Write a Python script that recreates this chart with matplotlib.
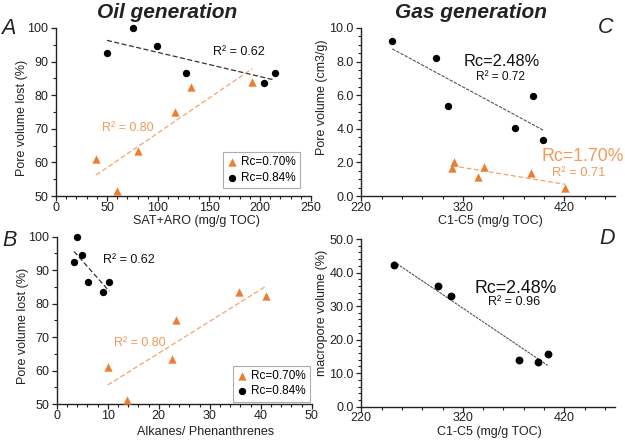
import matplotlib
matplotlib.use("Agg")
import matplotlib.pyplot as plt
import numpy as np
from matplotlib.ticker import MultipleLocator, FormatStrFormatter

plt.rcParams['font.family'] = ['Liberation Sans', 'DejaVu Sans']

# ---------------- data ----------------
# Panel A: SAT+ARO vs pore volume lost
a_x_070 = [39.3, 60.0, 80.8, 116.6, 132.1, 192.5]
a_y_070 = [61.0, 51.4, 63.3, 75.1, 82.5, 83.8]
a_x_084 = [50.0, 75.0, 99.0, 127.5, 203.5, 214.5]
a_y_084 = [92.6, 100.0, 94.7, 86.7, 83.6, 86.6]

# Panel B: Alkanes/Phenanthrenes vs pore volume lost
b_x_070 = [10.0, 13.8, 22.6, 23.4, 35.7, 41.1]
b_y_070 = [61.0, 51.2, 63.3, 75.0, 83.6, 82.3]
b_x_084 = [3.4, 4.0, 4.9, 6.1, 9.0, 10.3]
b_y_084 = [92.5, 100.0, 94.6, 86.6, 83.5, 86.6]

# Panel C: C1-C5 vs pore volume
c_x_170 = [311.0, 309.0, 334.6, 340.6, 386.9, 420.7]
c_y_170 = [2.0, 1.65, 1.15, 1.7, 1.35, 0.5]
c_x_248 = [250.5, 293.3, 305.1, 371.1, 389.1, 399.0]
c_y_248 = [9.22, 8.22, 5.35, 4.02, 5.97, 3.33]

# Panel D: C1-C5 vs macropore volume
d_x_248 = [252.0, 295.2, 308.0, 375.0, 393.7, 403.6]
d_y_248 = [42.1, 36.1, 33.1, 14.0, 13.3, 15.7]

ORANGE = '#ED7D31'
ORANGE_LINE = '#F4A46E'
ORANGE_TXT = '#F29A5C'

W, H = 625, 440
fig = plt.figure(figsize=(W / 100, H / 100), dpi=100)


def px_axes(left, top, right, bottom):
    return fig.add_axes([left / W, 1 - bottom / H, (right - left) / W, (bottom - top) / H])


def style(ax, xmaj, xmin, ymaj, ymin, yfmt=None, xoff=0):
    for s in ['top', 'right']:
        ax.spines[s].set_visible(False)
    for s in ['left', 'bottom']:
        ax.spines[s].set_linewidth(1.0)
        ax.spines[s].set_color('#222222')
    ax.xaxis.set_major_locator(MultipleLocator(xmaj, offset=xoff))
    ax.xaxis.set_minor_locator(MultipleLocator(xmin))
    ax.yaxis.set_major_locator(MultipleLocator(ymaj))
    ax.yaxis.set_minor_locator(MultipleLocator(ymin))
    if yfmt:
        ax.yaxis.set_major_formatter(FormatStrFormatter(yfmt))
    ax.tick_params(which='major', direction='out', length=3.5, width=0.9, labelsize=9,
                   colors='#222222', labelcolor='#222222')
    ax.tick_params(axis='x', which='major', pad=0.5)
    ax.tick_params(axis='y', which='major', pad=2)
    ax.tick_params(which='minor', direction='out', length=2.5, width=0.8, colors='#222222')


def trend(ax, x, y, color, lw=0.9, dashes=(4, 2)):
    x = np.asarray(x)
    y = np.asarray(y)
    k, b = np.polyfit(x, y, 1)
    xs = np.array([x.min(), x.max()])
    ax.plot(xs, k * xs + b, color=color, lw=lw, dashes=dashes, zorder=2)


def xlabel_at(ax, text, cx, cy, left, right, bottom, top):
    ax.set_xlabel(text, fontsize=9, color='#222222')
    ax.xaxis.set_label_coords((cx - left) / (right - left), -(cy - bottom) / (bottom - top))
    ax.xaxis.label.set_va('center')


def ylabel_at(ax, text, cx, cy, left, right, bottom, top):
    ax.set_ylabel(text, fontsize=9, color='#222222')
    ax.yaxis.set_label_coords(-(left - cx) / (right - left), (bottom - cy) / (bottom - top))
    ax.yaxis.label.set_va('center')


MS = 28
MS_T = 36

# ---------- Panel A ----------
A = (56, 28, 311, 196)
axA = px_axes(*A)
axA.set_xlim(0, 250)
axA.set_ylim(50, 100)
style(axA, 50, 10, 10, 5)
trend(axA, a_x_084, a_y_084, '#333333')
trend(axA, a_x_070, a_y_070, ORANGE_LINE)
axA.scatter(a_x_070, a_y_070, marker='^', s=MS_T, color=ORANGE, zorder=3, label='Rc=0.70%',
            linewidths=0, clip_on=False)
axA.scatter(a_x_084, a_y_084, marker='o', s=MS, color='black', zorder=3, label='Rc=0.84%',
            linewidths=0, clip_on=False)
axA.text(154, 93.0, 'R² = 0.62', fontsize=9, color='#111111', va='center')
axA.text(44.8, 70.2, 'R² = 0.80', fontsize=9, color=ORANGE_TXT, va='center')
xlabel_at(axA, 'SAT+ARO (mg/g TOC)', 196.7, 220.5, A[0], A[2], A[3], A[1])
ylabel_at(axA, 'Pore volume lost (%)', 22, 117.5, A[0], A[2], A[3], A[1])
legA = axA.legend(loc='upper left', bbox_to_anchor=((222.7 - 56) / 255, 1 - (152.3 - 28) / 168),
                  fontsize=8.5, frameon=True, fancybox=False, handlelength=0.8, handletextpad=0.4,
                  borderpad=0.35, labelspacing=0.3, borderaxespad=0, scatterpoints=1)
legA.get_frame().set_edgecolor('#999999')
legA.get_frame().set_linewidth(0.8)

# ---------- Panel B ----------
B = (56.7, 236.7, 311.7, 404)
axB = px_axes(*B)
axB.set_xlim(0, 50)
axB.set_ylim(50, 100)
style(axB, 10, 2, 10, 5)
trend(axB, b_x_084, b_y_084, '#333333')
trend(axB, b_x_070, b_y_070, ORANGE_LINE)
axB.scatter(b_x_070, b_y_070, marker='^', s=MS_T, color=ORANGE, zorder=3, label='Rc=0.70%',
            linewidths=0, clip_on=False)
axB.scatter(b_x_084, b_y_084, marker='o', s=MS, color='black', zorder=3, label='Rc=0.84%',
            linewidths=0, clip_on=False)
axB.text(9.0, 93.0, 'R² = 0.62', fontsize=9, color='#111111', va='center')
axB.text(11.2, 68.3, 'R² = 0.80', fontsize=9, color=ORANGE_TXT, va='center')
xlabel_at(axB, 'Alkanes/ Phenanthrenes', 206, 431.5, B[0], B[2], B[3], B[1])
ylabel_at(axB, 'Pore volume lost (%)', 23, 325.8, B[0], B[2], B[3], B[1])
legB = axB.legend(loc='upper left', bbox_to_anchor=((232.7 - 56.7) / 255, 1 - (365.7 - 236.7) / 167.3),
                  fontsize=8.5, frameon=True, fancybox=False, handlelength=0.8, handletextpad=0.4,
                  borderpad=0.35, labelspacing=0.3, borderaxespad=0, scatterpoints=1)
legB.get_frame().set_edgecolor('#999999')
legB.get_frame().set_linewidth(0.8)

# ---------- Panel C ----------
C = (361.3, 28, 615.2, 196)
axC = px_axes(*C)
axC.set_xlim(220, 470)
axC.set_ylim(0, 10)
style(axC, 100, 20, 2, 0.5, '%.1f', xoff=20)
trend(axC, c_x_248, c_y_248, '#555555', lw=0.8, dashes=(3, 1.2))
trend(axC, c_x_170, c_y_170, ORANGE_LINE)
axC.scatter(c_x_170, c_y_170, marker='^', s=MS_T, color=ORANGE, zorder=3, linewidths=0, clip_on=False)
axC.scatter(c_x_248, c_y_248, marker='o', s=MS, color='black', zorder=3, linewidths=0, clip_on=False)
axC.text(358.6, 8.0, 'Rc=2.48%', fontsize=11.8, color='#111111', ha='center', va='center')
axC.text(357.4, 7.07, 'R² = 0.72', fontsize=8.6, color='#111111', ha='center', va='center')
axC.text(438.1, 2.34, 'Rc=1.70%', fontsize=12.8, color=ORANGE_TXT, ha='center', va='center')
axC.text(433.7, 1.39, 'R² = 0.71', fontsize=9.3, color=ORANGE_TXT, ha='center', va='center')
xlabel_at(axC, 'C1-C5 (mg/g TOC)', 490, 220.5, C[0], C[2], C[3], C[1])
ylabel_at(axC, 'Pore volume (cm3/g)', 322, 97.5, C[0], C[2], C[3], C[1])

# ---------- Panel D ----------
D = (361.3, 239, 615.2, 406.7)
axD = px_axes(*D)
axD.set_xlim(220, 470)
axD.set_ylim(0, 50)
style(axD, 100, 20, 10, 2, '%.1f', xoff=20)
trend(axD, d_x_248, d_y_248, '#555555', lw=0.8, dashes=(2.5, 0.8))
axD.scatter(d_x_248, d_y_248, marker='o', s=MS + 4, color='black', zorder=3, linewidths=0, clip_on=False)
axD.text(371.7, 35.3, 'Rc=2.48%', fontsize=12.8, color='#111111', ha='center', va='center')
axD.text(370.4, 31.3, 'R² = 0.96', fontsize=9.1, color='#111111', ha='center', va='center')
xlabel_at(axD, 'C1-C5 (mg/g TOC)', 489.5, 431.5, D[0], D[2], D[3], D[1])
ylabel_at(axD, 'macropore volume (%)', 322, 313, D[0], D[2], D[3], D[1])

# ---------- titles and panel letters ----------
fig.text(166.8 / W, 1 - 12 / H, 'Oil generation', fontsize=15, fontweight='bold', fontstyle='italic',
         ha='center', va='center', color='#222222')
fig.text(471 / W, 1 - 12 / H, 'Gas generation', fontsize=15, fontweight='bold', fontstyle='italic',
         ha='center', va='center', color='#222222')
for letter, x, y in [('A', 8, 29), ('B', 10, 240), ('C', 605.5, 27.5), ('D', 607, 238.5)]:
    fig.text(x / W, 1 - y / H, letter, fontsize=15.5, fontstyle='italic', ha='center', va='center',
             color='#222222')

fig.savefig('out.png', dpi=100)
